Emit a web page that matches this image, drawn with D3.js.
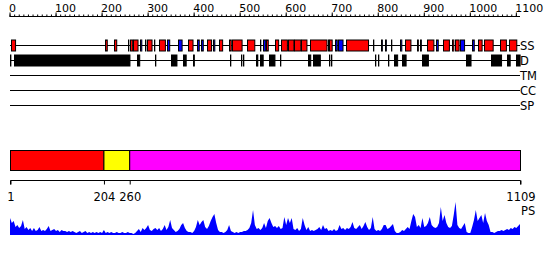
<!DOCTYPE html>
<html><head><meta charset="utf-8">
<script src="https://cdn.jsdelivr.net/npm/d3@7"></script>
<style>body{margin:0;background:#fff}svg{display:block}text{font-family:"DejaVu Sans",sans-serif}</style>
</head><body><svg id="c" width="550" height="260"></svg>
<script>
const seqLength = 1109;
const axisTicks = [0,100,200,300,400,500,600,700,800,900,1000,1100];
const trackNames = ["SS","D","TM","CC","SP"];
// secondary structure: helices (red)
const helices = [[3,13],[208,213],[228,234],[258,258],[261,267],[269,280],[298,309],[314,314],[325,339],[388,399],[428,438],[454,462],[476,481],[483,505],[515,532],[544,544],[557,562],[577,585],[589,603],[604,617],[618,633],[634,647],[652,689],[692,692],[695,702],[730,779],[789,789],[829,829],[859,872],[885,888],[908,923],[941,955],[961,965],[968,977],[1018,1027],[1031,1051],[1066,1080],[1086,1103]];
// strands (blue)
const strands = [[284,288],[294,296],[343,349],[365,374],[407,412],[417,422],[443,447],[550,556],[706,711],[714,725],[808,811],[816,819],[848,852],[892,895],[927,932],[979,989],[1004,1009]];
// disorder (black)
const disorder = [[1,3],[10,262],[276,282],[316,316],[350,363],[376,383],[398,401],[480,480],[502,502],[508,508],[535,535],[538,538],[544,551],[564,577],[588,588],[649,655],[659,675],[693,693],[698,698],[794,794],[800,800],[823,823],[835,843],[852,861],[896,910],[992,1003],[1046,1069],[1080,1087],[1100,1109]];
// domains
const domainStarts = [1,204,260];
const domainEnds = [204,260,1109];
const domainColors = ["#ff0000","#ffff00","#ff00ff"];
const domainLabels = ["1","204","260","1109"];
// PS profile, sampled every 4 residues from residue 1
const psStep = 4;
const psValues = [17,12,14,8,10,7,9,15,6,8,5,7,4,7,4,5,8,4,5,4,6,9,4,5,6,4,5,3,5,4,4,3,4,3,4,3,2,3,4,2,3,4,2,3,2,3,2,3,2,3,2,5,2,3,2,3,2,2,3,2,2,3,2,2,3,2,2,1,2,4,6,3,7,5,7,10,5,4,6,7,5,7,4,6,10,5,8,15,7,5,3,4,6,10,12,7,4,3,3,2,4,8,15,10,13,15,8,6,9,14,18,21,12,5,3,3,2,3,5,10,4,3,2,3,2,3,3,4,4,5,7,12,25,10,6,7,5,7,12,7,14,17,12,8,9,7,9,6,7,18,10,17,12,17,6,5,7,4,6,17,10,5,8,4,5,4,5,6,8,5,10,6,7,4,5,4,6,4,5,10,6,7,5,7,6,8,13,7,6,8,10,6,9,13,8,5,7,18,6,4,5,4,6,10,10,6,7,9,11,4,2,2,3,5,4,6,8,6,14,21,18,8,10,7,17,8,9,12,18,10,8,7,8,12,28,14,20,12,8,7,9,20,33,10,7,6,9,12,3,2,2,8,15,25,14,17,20,12,22,14,10,3,3,2,3,4,4,5,4,5,6,5,7,6,8,7,9,11];

const svg = d3.select("#c");
const x = d3.scaleLinear().domain([1, seqLength]).range([10, 520]);
const trackY = d3.scalePoint().domain(trackNames).range([45, 105]);

// top ruler
const minor = d3.axisTop(x).tickValues(d3.range(0, 1101, 10)).tickSize(2).tickFormat("");
const gMinor = svg.append("g").attr("transform","translate(0,16.5)").call(minor);
gMinor.select(".domain").attr("d", `M${x(0)},0H520`).attr("stroke","#000");
const major = d3.axisTop(x).tickValues(axisTicks).tickSize(4).tickFormat(d3.format("d"));
const gMajor = svg.append("g").attr("transform","translate(0,16.5)").call(major);
gMajor.select(".domain").remove();
gMajor.selectAll("text").attr("text-anchor","start").attr("dx","-1").attr("y", -5).attr("dy", 0)
  .attr("font-size","11px").attr("font-family","DejaVu Sans").attr("fill","#000");

// track lines + labels
trackNames.forEach(n => {
  svg.append("line").attr("x1", 10).attr("x2", 520).attr("y1", trackY(n)+0.5).attr("y2", trackY(n)+0.5).attr("stroke","#000");
  svg.append("text").attr("x", 520).attr("y", trackY(n)+4.5).attr("font-size","11.5px").text(n);
});

function boxes(data, track, color) {
  svg.append("g").selectAll("rect").data(data).join("rect")
    .attr("x", d => Math.round(x(d[0])) + 0.5)
    .attr("width", d => Math.max(0.3, x(d[1]+1) - x(d[0]) - 1))
    .attr("y", trackY(track) - 5)
    .attr("height", 11)
    .attr("fill", color).attr("stroke","#000").attr("stroke-width",1);
}
boxes(helices, "SS", "#ff0000");
boxes(strands, "SS", "#0000ff");
boxes(disorder, "D", "#000000");

// domain bar
svg.append("g").selectAll("rect").data(domainStarts).join("rect")
  .attr("x", (d,i) => x(d) + 0.5)
  .attr("width", (d,i) => x(domainEnds[i]) - x(d))
  .attr("y", 150.5).attr("height", 20)
  .attr("fill", (d,i) => domainColors[i]).attr("stroke","#000");

// domain axis
const bounds = [1,204,260,1109];
const dAxis = d3.axisBottom(x).tickValues(bounds).tickSize(4).tickPadding(8).tickFormat((d,i)=>domainLabels[i]);
const gD = svg.append("g").attr("transform","translate(0.5,180.5)").call(dAxis);
gD.selectAll("text").attr("font-size","11.5px").attr("font-family","DejaVu Sans").attr("fill","#000");
gD.select(".domain").attr("d", `M${x(1)},4V0H${x(1109)}V4`);

// PS profile
const psData = psValues.map((v,i) => ({r: 1 + i*psStep, v}));
const y = d3.scaleLinear().domain([0, 35]).range([235, 200]);
svg.append("path").datum(psData)
  .attr("d", d3.area().x(d => x(d.r)).y0(235).y1(d => y(d.v)))
  .attr("fill","#0000ff");
svg.append("line").attr("x1",10).attr("x2",520).attr("y1",234.5).attr("y2",234.5).attr("stroke","#0000ff");
svg.append("text").attr("x", 521).attr("y", 215).attr("font-size","11.5px").text("PS");
</script></body></html>
